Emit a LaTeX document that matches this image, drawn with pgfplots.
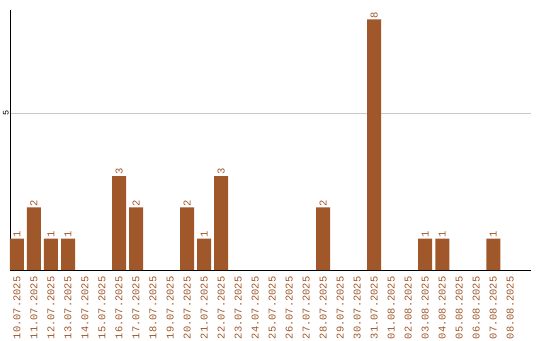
\documentclass[border=0pt]{standalone}
\usepackage{fontspec}
\setmainfont{Liberation Mono}
\usepackage{pgfplots}
\pgfplotsset{compat=1.18}
\definecolor{barbrown}{HTML}{A0572A}
\definecolor{gridgray}{HTML}{C8C8C8}
\begin{document}
\begin{tikzpicture}[x=1pt,y=1pt]
\useasboundingbox (0,0) rectangle (540,340);
\begin{axis}[
  at={(10pt,70pt)}, anchor=south west,
  scale only axis, width=520.7pt, height=260pt,
  xmin=-0.41, xmax=30.2, ymin=0, ymax=8.3,
  axis x line*=bottom, axis y line*=left,
  axis line style={black, line width=1pt},
  xtick={0,...,29},
  xticklabels={10.07.2025,11.07.2025,12.07.2025,13.07.2025,14.07.2025,15.07.2025,16.07.2025,17.07.2025,18.07.2025,19.07.2025,20.07.2025,21.07.2025,22.07.2025,23.07.2025,24.07.2025,25.07.2025,26.07.2025,27.07.2025,28.07.2025,29.07.2025,30.07.2025,31.07.2025,01.08.2025,02.08.2025,03.08.2025,04.08.2025,05.08.2025,06.08.2025,07.08.2025,08.08.2025},
  x tick label style={rotate=90, anchor=east, font=\fontsize{10.4}{11}\selectfont, text=barbrown, inner sep=0pt, xshift=0.5pt},
  xticklabel shift=7pt,
  ytick={5}, yticklabels={5},
  y tick label style={rotate=90, anchor=south, font=\fontsize{8.5}{9}\selectfont, inner sep=0pt, yshift=-1.5pt},
  yticklabel shift=2.5pt,
  major tick length=0pt,
  ymajorgrids, grid style={gridgray, line width=0.8pt},
  clip=false,
]
\addplot[ybar, bar width=14pt, fill=barbrown, draw=none,
  nodes near coords, point meta=explicit symbolic,
  every node near coord/.append style={rotate=90, anchor=west, text=barbrown, font=\fontsize{10.5}{11}\selectfont, inner sep=1pt}]
  table[meta=v] {
x y v
0 1 1
1 2 2
2 1 1
3 1 1
6 3 3
7 2 2
10 2 2
11 1 1
12 3 3
18 2 2
21 8 8
24 1 1
25 1 1
28 1 1
};
\end{axis}
\end{tikzpicture}
\end{document}
